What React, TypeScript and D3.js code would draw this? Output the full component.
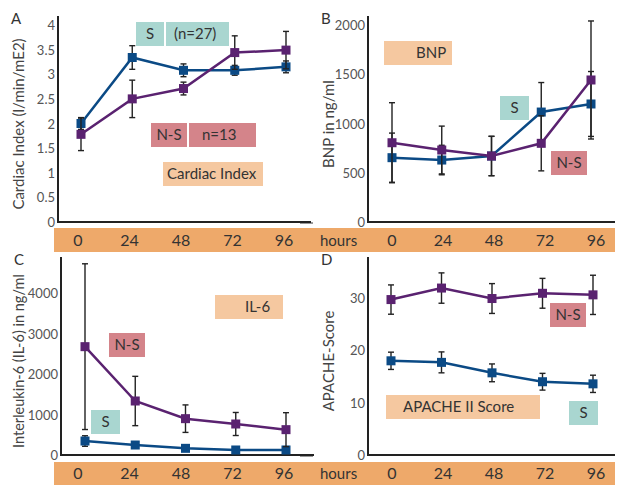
import React from 'react';
import * as d3 from 'd3';

const HOURS = [0, 24, 48, 72, 96];

const ciS = [2.0, 3.34, 3.08, 3.08, 3.15];
const ciSErr = [0.12, 0.24, 0.13, 0.1, 0.12];
const ciNS = [1.78, 2.5, 2.71, 3.44, 3.49];
const ciNSErr = [0.33, 0.38, 0.13, 0.34, 0.38];

const bnpS = [654, 630, 671, 1118, 1200];
const bnpSErr = [250, 150, 200, 300, 330];
const bnpNS = [806, 732, 671, 800, 1444];
const bnpNSErr = [407, 243, 200, 280, 600];

const il6S = [346, 247, 165, 124, 124];
const il6SErr = [130, 30, 30, 30, 30];
const il6NS = [2680, 1336, 899, 767, 627];
const il6NSErr = [2050, 610, 340, 285, 420];

const apS = [18.0, 17.7, 15.7, 14.0, 13.6];
const apSErr = [1.65, 2, 1.7, 1.6, 1.65];
const apNS = [29.7, 31.9, 29.9, 30.9, 30.6];
const apNSErr = [2.8, 2.9, 2.85, 2.85, 3.75];

const ciTicks = [0, 0.5, 1, 1.5, 2, 2.5, 3, 3.5, 4];
const bnpTicks = [0, 500, 1000, 1500, 2000];
const il6Ticks = [0, 1000, 2000, 3000, 4000];
const apTicks = [0, 10, 20, 30];

const BLUE = '#0b4a85';
const PURPLE = '#5a2270';
const TEAL = '#a9d6d0';
const ROSE = '#d4848a';
const PEACH = '#f5c8a0';
const BAND = '#eea96a';
const FONT = 'Lato, "Open Sans", sans-serif';

function Series({x, y, vals, errs, color}) {
  const line = d3.line().x((d, i) => x(HOURS[i])).y(d => y(d));
  return (
    <g>
      <path d={line(vals)} fill="none" stroke={color} strokeWidth={2.5} />
      {vals.map((v, i) => (
        <g key={i} stroke="#222" strokeWidth={1.4}>
          <line x1={x(HOURS[i])} x2={x(HOURS[i])} y1={y(v - errs[i])} y2={y(v + errs[i])} />
          <line x1={x(HOURS[i]) - 3} x2={x(HOURS[i]) + 3} y1={y(v - errs[i])} y2={y(v - errs[i])} />
          <line x1={x(HOURS[i]) - 3} x2={x(HOURS[i]) + 3} y1={y(v + errs[i])} y2={y(v + errs[i])} />
        </g>
      ))}
      {vals.map((v, i) => (
        <rect key={i} x={x(HOURS[i]) - 4.5} y={y(v) - 4.5} width={9} height={9} fill={color} />
      ))}
    </g>
  );
}

function Panel({letter, ax, top, bottom, right, xRange, yDomain, yRange, ticks, title, titleX, s, sErr, ns, nsErr, titleSize}) {
  const x = d3.scaleLinear().domain([0, 96]).range(xRange);
  const y = d3.scaleLinear().domain(yDomain).range(yRange);
  const titleY = (top + bottom) / 2 + 5;
  return (
    <g fontFamily={FONT}>
      <text x={ax - 47} y={top + 8} fontSize={15} fill="#333">{letter}</text>
      <text transform={`translate(${titleX},${titleY}) rotate(-90)`} textAnchor="middle" fontSize={titleSize} fill="#444">{title}</text>
      {ticks.map(t => (
        <text key={t} x={ax - 3} y={y(t) + 5} textAnchor="end" fontSize={13} fill="#555">{t}</text>
      ))}
      <path d={`M${ax},${top}V${bottom}H${right}`} fill="none" stroke="#222" strokeWidth={2} />
      <Series x={x} y={y} vals={s} errs={sErr} color={BLUE} />
      <Series x={x} y={y} vals={ns} errs={nsErr} color={PURPLE} />
    </g>
  );
}

function Box({x, y, w, fill, label, tx, anchor = 'middle'}) {
  return (
    <g fontFamily={FONT}>
      <rect x={x} y={y} width={w} height={24} fill={fill} />
      <text x={tx ?? x + w / 2} y={y + 17} textAnchor={anchor} fontSize={15} fill="#333">{label}</text>
    </g>
  );
}

function Band({y, h, base}) {
  const xl = d3.scaleLinear().domain([0, 96]).range([78, 284]);
  const xr = d3.scaleLinear().domain([0, 96]).range([392, 596]);
  return (
    <g fontFamily={FONT} fontSize={16} fill="#333">
      <rect x={54} y={y} width={561} height={h} fill={BAND} />
      {HOURS.map(hh => <text key={'l' + hh} x={xl(hh)} y={base} textAnchor="middle">{hh}</text>)}
      {HOURS.map(hh => <text key={'r' + hh} x={xr(hh)} y={base} textAnchor="middle">{hh}</text>)}
      <text x={320} y={base} fontSize={15}>hours</text>
    </g>
  );
}

export default function App() {
  return (
    <svg width={619} height={485} style={{position: 'absolute', left: 0, top: 0, background: '#fff'}}>
      <Band y={228} h={24} base={246} />
      <Band y={462} h={23} base={479} />
      <line x1={300} x2={313} y1={223} y2={223} stroke="#555" strokeWidth={1.2} />
      <line x1={300} x2={313} y1={456} y2={456} stroke="#555" strokeWidth={1.2} />

      <Panel letter="A" ax={58} top={16} bottom={222} right={311} xRange={[81, 286]}
        yDomain={[0, 4]} yRange={[222, 25]} ticks={ciTicks} title="Cardiac Index (l/min/mE2)"
        titleX={24} titleSize={15} s={ciS} sErr={ciSErr} ns={ciNS} nsErr={ciNSErr} />
      <Panel letter="B" ax={368} top={16} bottom={222} right={615} xRange={[392, 591]}
        yDomain={[0, 2000]} yRange={[222, 25.3]} ticks={bnpTicks} title="BNP in ng/ml"
        titleX={334} titleSize={15} s={bnpS} sErr={bnpSErr} ns={bnpNS} nsErr={bnpNSErr} />
      <Panel letter="C" ax={61} top={257} bottom={455} right={314} xRange={[85, 286]}
        yDomain={[0, 4000]} yRange={[455, 293.3]} ticks={il6Ticks} title="Interleukin-6 (IL-6) in ng/ml"
        titleX={24} titleSize={14.5} s={il6S} sErr={il6SErr} ns={il6NS} nsErr={il6NSErr} />
      <Panel letter="D" ax={368} top={257} bottom={455} right={615} xRange={[391, 593]}
        yDomain={[0, 30]} yRange={[455, 298]} ticks={apTicks} title="APACHE-Score"
        titleX={334} titleSize={15} s={apS} sErr={apSErr} ns={apNS} nsErr={apNSErr} />

      <Box x={136} y={22} w={28} fill={TEAL} label="S" />
      <Box x={166} y={22} w={63} fill={TEAL} label="(n=27)" tx={174} anchor="start" />
      <Box x={151} y={123} w={36} fill={ROSE} label="N-S" />
      <Box x={189} y={123} w={67} fill={ROSE} label="n=13" tx={202} anchor="start" />
      <Box x={163} y={162} w={100} fill={PEACH} label="Cardiac Index" tx={167} anchor="start" />

      <Box x={384} y={41} w={68} fill={PEACH} label="BNP" tx={416} anchor="start" />
      <Box x={500} y={96} w={29} fill={TEAL} label="S" />
      <Box x={551} y={151} w={36} fill={ROSE} label="N-S" />

      <Box x={215} y={295} w={68} fill={PEACH} label="IL-6" tx={245} anchor="start" />
      <Box x={109} y={333} w={36} fill={ROSE} label="N-S" />
      <Box x={91} y={410} w={29} fill={TEAL} label="S" />

      <Box x={550} y={303} w={36} fill={ROSE} label="N-S" />
      <Box x={386} y={395} w={154} fill={PEACH} label="APACHE II Score" tx={403} anchor="start" />
      <Box x={569} y={401} w={29} fill={TEAL} label="S" />
    </svg>
  );
}
